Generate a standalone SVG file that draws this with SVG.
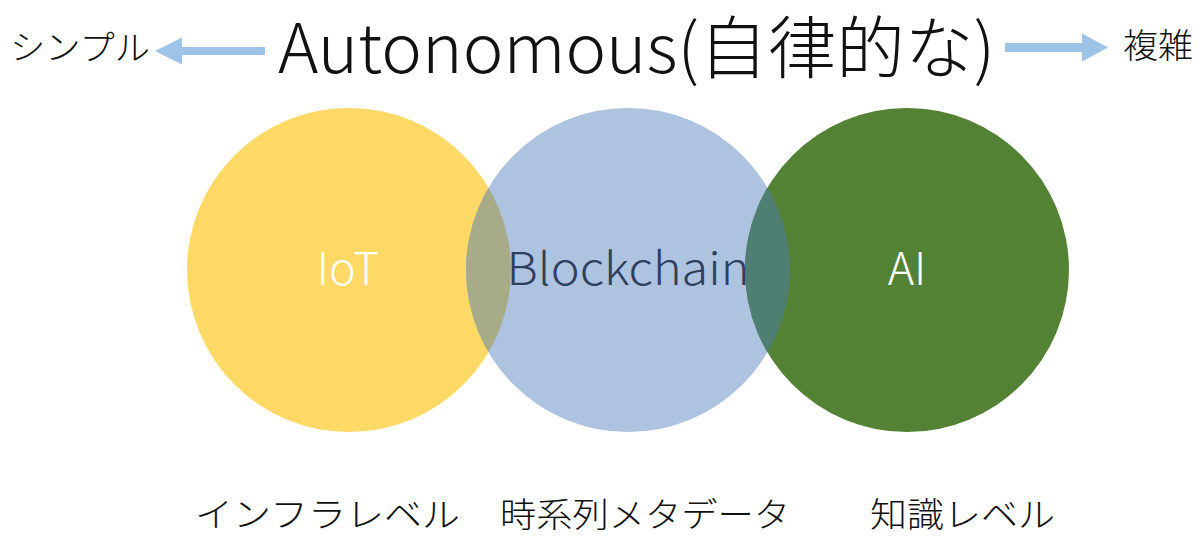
<svg xmlns="http://www.w3.org/2000/svg" width="1200" height="538" viewBox="0 0 1200 538">
<style>
.t{font-family:"Noto Sans CJK JP","Noto Sans",sans-serif;font-weight:300;fill:#111}
.lbl{font-family:"Noto Sans CJK JP","Noto Sans",sans-serif;font-weight:300;font-size:45px;text-anchor:middle}
.arrow{fill:#9DC3E6}
</style>
<defs>
<clipPath id="cy"><circle cx="349" cy="270" r="162"/></clipPath>
<clipPath id="cg"><circle cx="907" cy="270" r="162"/></clipPath>
</defs>
<rect width="1200" height="538" fill="#fff"/>
<g id="title">
<text class="t" x="278" y="73" font-size="68" textLength="717" lengthAdjust="spacingAndGlyphs">Autonomous(自律的な)</text>
</g>
<g id="connectors">
<path class="arrow" d="M155,51 L182,37.5 L182,47 L265,47 L265,55 L182,55 L182,64.5 Z"/>
<path class="arrow" d="M1108,47.5 L1082,33.5 L1082,43 L1005,43 L1005,52 L1082,52 L1082,61.5 Z"/>
</g>
<g id="simple"><text class="t" x="10" y="60" font-size="34" textLength="140" lengthAdjust="spacingAndGlyphs">シンプル</text></g>
<g id="complex"><text class="t" x="1123" y="58" font-size="34" textLength="70" lengthAdjust="spacingAndGlyphs">複雑</text></g>
<g id="iot">
<circle cx="349" cy="270" r="162" fill="#FFD966"/>
</g>
<g id="blockchain">
<circle cx="628" cy="270" r="162" fill="#ADC3E0"/>
<circle cx="628" cy="270" r="162" fill="#A8AB87" clip-path="url(#cy)"/>
</g>
<g id="ai">
<circle cx="907" cy="270" r="162" fill="#548235"/>
<circle cx="628" cy="270" r="162" fill="#4E7F72" clip-path="url(#cg)"/>
</g>
<g id="labels">
<text class="lbl" x="348" y="285" fill="#fff">IoT</text>
<text class="lbl" x="628" y="285" fill="#2F3F5E" textLength="243" lengthAdjust="spacingAndGlyphs">Blockchain</text>
<text class="lbl" x="907" y="285" fill="#fff">AI</text>
</g>
<g id="levels">
<text class="t" x="195" y="527" font-size="34" textLength="265" lengthAdjust="spacingAndGlyphs">インフラレベル</text>
<text class="t" x="500" y="527" font-size="34" textLength="290" lengthAdjust="spacingAndGlyphs">時系列メタデータ</text>
<text class="t" x="870" y="527" font-size="34" textLength="185" lengthAdjust="spacingAndGlyphs">知識レベル</text>
</g>
</svg>
